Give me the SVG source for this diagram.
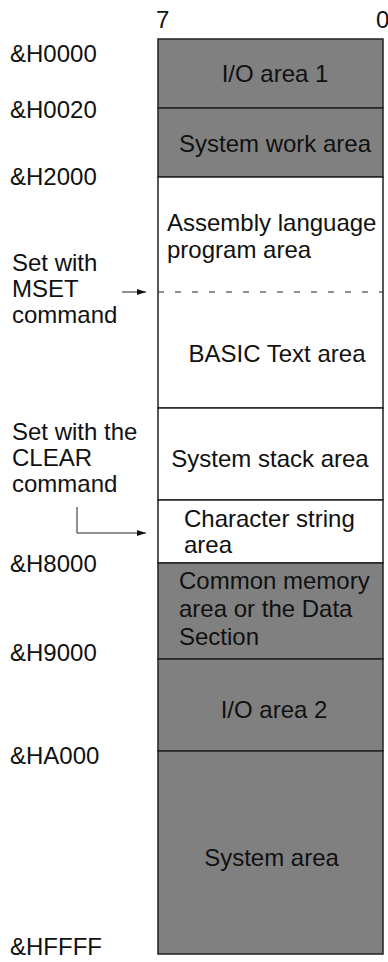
<svg xmlns="http://www.w3.org/2000/svg" width="388" height="962" viewBox="0 0 388 962">
<style>
text{font-family:"Liberation Sans",Arial,sans-serif;font-size:24px;fill:#111}
.c{text-anchor:middle}
.dark{fill:#808080;stroke:#222;stroke-width:1.5}
.light{fill:#fff;stroke:#222;stroke-width:1.5}
.conn{fill:none;stroke:#222;stroke-width:1}
</style>
<defs>
<marker id="ah" markerWidth="9" markerHeight="6" refX="9" refY="3" orient="auto" markerUnits="userSpaceOnUse">
<path d="M0,0 L9,3 L0,6 Z" fill="#111"/>
</marker>
</defs>
<rect width="388" height="962" fill="#fff"/>
<g id="bits">
<text x="156" y="28">7</text>
<text x="376" y="28">0</text>
</g>
<g id="addresses">
<text x="10" y="62">&amp;H0000</text>
<text x="10" y="118">&amp;H0020</text>
<text x="10" y="185">&amp;H2000</text>
<text x="10" y="572">&amp;H8000</text>
<text x="10" y="661">&amp;H9000</text>
<text x="10" y="764">&amp;HA000</text>
<text x="10" y="955">&amp;HFFFF</text>
</g>
<g id="io1">
<rect class="dark" x="158" y="39" width="225" height="69"/>
<text class="c" x="275" y="82">I/O area 1</text>
</g>
<g id="syswork">
<rect class="dark" x="158" y="108" width="225" height="69"/>
<text class="c" x="275" y="152">System work area</text>
</g>
<g id="asmbasic">
<rect class="light" x="158" y="177" width="225" height="231"/>
<line x1="158" y1="292" x2="383" y2="292" stroke="#222" stroke-width="1" stroke-dasharray="6 11"/>
<text x="167" y="231">Assembly language</text>
<text x="167" y="258">program area</text>
<text class="c" x="277" y="362">BASIC Text area</text>
</g>
<g id="stack">
<rect class="light" x="158" y="408" width="225" height="92"/>
<text class="c" x="270" y="467">System stack area</text>
</g>
<g id="charstr">
<rect class="light" x="158" y="500" width="225" height="63"/>
<text x="184" y="527">Character string</text>
<text x="184" y="553">area</text>
</g>
<g id="common">
<rect class="dark" x="158" y="563" width="225" height="96"/>
<text x="179" y="589">Common memory</text>
<text x="179" y="617">area or the Data</text>
<text x="179" y="645">Section</text>
</g>
<g id="io2">
<rect class="dark" x="158" y="659" width="225" height="92"/>
<text class="c" x="274" y="718">I/O area 2</text>
</g>
<g id="sysarea">
<rect class="dark" x="158" y="751" width="225" height="203"/>
<text class="c" x="271.5" y="866">System area</text>
</g>
<g id="mset-label">
<text x="12" y="271">Set with</text>
<text x="12" y="297">MSET</text>
<text x="12" y="323">command</text>
</g>
<g id="clear-label">
<text x="12" y="440">Set with the</text>
<text x="12" y="466">CLEAR</text>
<text x="12" y="492">command</text>
</g>
<g id="connectors">
<line class="conn" x1="122" y1="292" x2="146" y2="292" marker-end="url(#ah)"/>
<polyline class="conn" points="77,507 77,533 146,533" marker-end="url(#ah)"/>
</g>
</svg>
